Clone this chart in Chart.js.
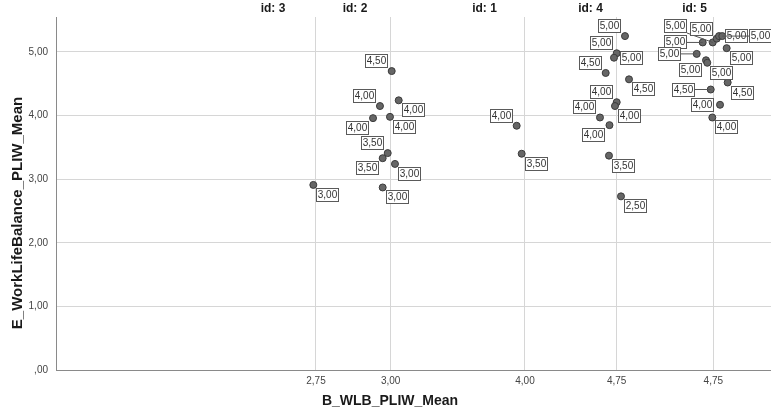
<!DOCTYPE html>
<html>
<head>
<meta charset="utf-8">
<title>B_WLB_PLIW_Mean vs E_WorkLifeBalance_PLIW_Mean</title>
<script src="https://cdn.jsdelivr.net/npm/chart.js@4.4.0/dist/chart.umd.min.js"></script>
<style>
  html, body { margin: 0; padding: 0; background: #fff; }
  #wrap { width: 771px; height: 416px; }
</style>
</head>
<body>
<div id="wrap"><canvas id="scatter"></canvas></div>
<script>
// values (x is the position along the panelled x axis)
const idNames = ["id: 3", "id: 2", "id: 1", "id: 4", "id: 5"];
const idPos = [30.35, 41.82, 59.93, 74.76, 89.30];

const xTickPos = [36.36, 46.81, 65.59, 78.42, 91.93];
const xTickLabels = ["2,75", "3,00", "4,00", "4,75", "4,75"];
const yTicks = [0, 1, 2, 3, 4, 5];

const wlbPos = [
  35.99,
  46.95, 47.93, 45.31, 46.71, 44.34, 46.39, 45.69, 47.41, 45.69,
  64.43, 65.13,
  79.58, 78.42, 78.04, 76.88, 80.14, 78.42, 78.18, 76.08, 77.41, 77.34, 79.02,
  90.45, 91.85, 92.41, 92.73, 93.19, 93.80, 89.61, 90.91, 91.09, 93.94, 91.57, 92.87, 91.79
];
const workLifeBalance = [
  2.91,
  4.70, 4.24, 4.15, 3.98, 3.96, 3.41, 3.33, 3.24, 2.87,
  3.84, 3.40,
  5.25, 4.98, 4.91, 4.67, 4.57, 4.21, 4.15, 3.97, 3.85, 3.37, 2.73,
  5.15, 5.15, 5.21, 5.25, 5.25, 5.06, 4.97, 4.87, 4.83, 4.52, 4.41, 4.17, 3.97
];
const caseLabels = [
  "3,00",
  "4,50", "4,00", "4,00", "4,00", "4,00", "3,50", "3,50", "3,00", "3,00",
  "4,00", "3,50",
  "5,00", "5,00", "5,00", "4,50", "4,50", "4,00", "4,00", "4,00", "4,00", "3,50", "2,50",
  "5,00", "5,00", "5,00", "5,00", "5,00", "5,00", "5,00", "5,00", "5,00", "4,50", "4,50", "4,00", "4,00"
];

// where each case label sits relative to its point
const labelAlign = [
  "lr",
  "ul", "lr", "ul", "lr", "ll", "ul", "ll", "lr", "lr",
  "ul", "lr",
  "ul", "ul", "r", "ul", "lr", "ul", "lr", "ul", "ll", "lr", "lr",
  "L", "UL", "ul", "r", "R", "lr", "L", "ll", "lr", "lr", "L", "l", "lr"
];

const points = wlbPos.map((x, i) => ({ x: x, y: workLifeBalance[i] }));

function fmt(v) {
  const s = v.toFixed(2).replace(".", ",");
  return s.startsWith("0,") ? s.slice(1) : s;
}

const FONT = '"Liberation Sans", Arial, sans-serif';

const caseBoxes = {
  id: "caseBoxes",
  afterDatasetsDraw(chart) {
    const ctx = chart.ctx;
    const meta = chart.getDatasetMeta(0);
    const w = 23, h = 14;
    ctx.save();
    ctx.font = "10px " + FONT;
    ctx.textAlign = "center";
    ctx.textBaseline = "middle";
    meta.data.forEach((pt, i) => {
      const px = pt.x, py = pt.y;
      let bx, by, leader = false;
      switch (labelAlign[i]) {
        case "ul": bx = px - 4 - w; by = py - 3 - h; break;
        case "ur": bx = px + 3; by = py - 3 - h; break;
        case "ll": bx = px - 4 - w; by = py + 3; break;
        case "l":  bx = px - 6 - w; by = py - h / 2; break;
        case "r":  bx = px + 6; by = py - h / 2; break;
        case "L":  bx = px - 16 - w; by = py - h / 2; leader = true; break;
        case "R":  bx = px + 27; by = py - h / 2; leader = true; break;
        case "UL": bx = px - 26 - w; by = py - 9 - h; leader = true; break;
        default:   bx = px + 3; by = py + 3;
      }
      bx = Math.round(bx); by = Math.round(by);
      if (leader) {
        const ex = bx + w < px ? bx + w : bx;
        const ey = Math.min(Math.max(py, by), by + h);
        ctx.strokeStyle = "#555";
        ctx.lineWidth = 1;
        ctx.beginPath();
        ctx.moveTo(ex, ey);
        ctx.lineTo(px, py);
        ctx.stroke();
      }
      ctx.fillStyle = "#fff";
      ctx.fillRect(bx, by, w, h);
      ctx.strokeStyle = "#5a5a5a";
      ctx.lineWidth = 1;
      ctx.strokeRect(bx + 0.5, by + 0.5, w - 1, h - 1);
      ctx.fillStyle = "#333";
      ctx.fillText(caseLabels[i], bx + w / 2, by + h / 2 + 0.5);
    });
    ctx.restore();
  }
};

const axisTitles = {
  id: "axisTitles",
  afterDraw(chart) {
    const ctx = chart.ctx;
    ctx.save();
    ctx.fillStyle = "#1a1a1a";
    ctx.font = "bold 14px " + FONT;
    ctx.textAlign = "center";
    ctx.textBaseline = "middle";
    ctx.fillText("B_WLB_PLIW_Mean", 390, 401);
    ctx.font = "bold 15px " + FONT;
    ctx.translate(18, 213);
    ctx.rotate(-Math.PI / 2);
    ctx.fillText("E_WorkLifeBalance_PLIW_Mean", 0, 0);
    ctx.restore();
  }
};

new Chart(document.getElementById("scatter"), {
  type: "scatter",
  data: {
    datasets: [{
      data: points,
      pointRadius: 3.5,
      pointBackgroundColor: "#666",
      pointBorderColor: "#3a3a3a",
      pointBorderWidth: 1,
      clip: false
    }]
  },
  options: {
    responsive: true,
    maintainAspectRatio: false,
    animation: false,
    layout: { padding: 0, autoPadding: false },
    plugins: { legend: { display: false }, tooltip: { enabled: false } },
    scales: {
      x: {
        type: "linear",
        position: "bottom",
        min: 0,
        max: 100,
        afterBuildTicks: s => { s.ticks = xTickPos.map(v => ({ value: v })); },
        afterFit: s => { s.height = 46; },
        ticks: {
          autoSkip: false,
          maxRotation: 0,
          padding: 5,
          color: "#444",
          font: { family: FONT, size: 10 },
          callback: (v, i) => xTickLabels[i]
        },
        grid: { color: "#d6d6d6", lineWidth: 1, drawTicks: false },
        border: { color: "#8a8a8a" }
      },
      x2: {
        type: "linear",
        position: "top",
        min: 0,
        max: 100,
        afterBuildTicks: s => { s.ticks = idPos.map(v => ({ value: v })); },
        afterFit: s => { s.height = 17; },
        ticks: {
          autoSkip: false,
          maxRotation: 0,
          padding: 1,
          color: "#1a1a1a",
          font: { family: FONT, size: 12, weight: "bold" },
          callback: (v, i) => idNames[i]
        },
        grid: { display: false, drawTicks: false },
        border: { display: false }
      },
      y: {
        type: "linear",
        min: 0,
        max: 5.55,
        afterBuildTicks: s => { s.ticks = yTicks.map(v => ({ value: v })); },
        afterFit: s => { s.width = 56; },
        ticks: {
          padding: 8,
          color: "#444",
          font: { family: FONT, size: 10 },
          callback: v => fmt(v)
        },
        grid: { color: "#d6d6d6", lineWidth: 1, drawTicks: false },
        border: { color: "#8a8a8a" }
      }
    }
  },
  plugins: [caseBoxes, axisTitles]
});
</script>
</body>
</html>
